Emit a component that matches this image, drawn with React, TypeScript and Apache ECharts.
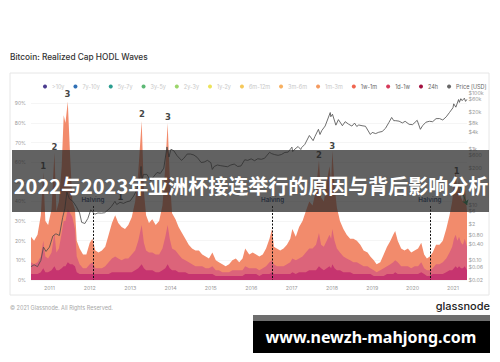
import React, { useEffect, useRef } from 'react';
import * as echarts from 'echarts';

// ---------- legend ----------
const legendNames = ['>10y', '7y-10y', '5y-7y', '3y-5y', '2y-3y', '1y-2y', '6m-12m', '3m-6m', '1m-3m', '1w-1m', '1d-1w', '24h', 'Price [USD]'];
const legendColors = ['#4b3c8f', '#2e6fb5', '#2a9d8f', '#5cb874', '#9bd56b', '#ece35a', '#f5c85a', '#f7b060', '#f49a60', '#f0654f', '#d63a5a', '#a3103f', '#666666'];
const hiddenBands = legendNames.slice(0, 9);

// ---------- HODL wave bands (% of realized cap) ----------
const bandDates = [
  '2010-07-18', '2010-08-15', '2010-09-15', '2010-10-15', '2010-11-06', '2010-11-25', '2010-12-20',
  '2011-01-20', '2011-02-15', '2011-03-05', '2011-03-28', '2011-04-22', '2011-05-10', '2011-05-26', '2011-06-16', '2011-07-08', '2011-07-28', '2011-08-20', '2011-09-05', '2011-10-01', '2011-11-01', '2011-12-01',
  '2012-01-01', '2012-01-25', '2012-02-20', '2012-03-20', '2012-04-20', '2012-05-20', '2012-06-20', '2012-07-20', '2012-08-18', '2012-09-15', '2012-10-15', '2012-11-15', '2012-12-15',
  '2013-01-15', '2013-02-15', '2013-03-15', '2013-04-15', '2013-05-05', '2013-05-25', '2013-06-20', '2013-07-20', '2013-08-20', '2013-09-20', '2013-10-20', '2013-11-15', '2013-12-06', '2013-12-25',
  '2014-01-15', '2014-02-15', '2014-03-15', '2014-04-15', '2014-05-15', '2014-06-15', '2014-07-15', '2014-08-15', '2014-09-15', '2014-10-15', '2014-11-15', '2014-12-15',
  '2015-01-15', '2015-02-15', '2015-03-15', '2015-04-15', '2015-05-15', '2015-06-15', '2015-07-15', '2015-08-15', '2015-09-15', '2015-10-15', '2015-11-08', '2015-12-15',
  '2016-01-15', '2016-02-15', '2016-03-15', '2016-04-15', '2016-05-15', '2016-06-15', '2016-07-08', '2016-07-25', '2016-08-20', '2016-09-20', '2016-10-20', '2016-11-20', '2016-12-20',
  '2017-01-08', '2017-02-08', '2017-03-10', '2017-04-10', '2017-05-10', '2017-06-10', '2017-07-10', '2017-08-10', '2017-09-06', '2017-09-25', '2017-10-20', '2017-11-15', '2017-12-10', '2017-12-25',
  '2018-01-05', '2018-01-25', '2018-02-15', '2018-03-15', '2018-04-15', '2018-05-15', '2018-06-15', '2018-07-15', '2018-08-15', '2018-09-15', '2018-10-15', '2018-11-20', '2018-12-15',
  '2019-01-15', '2019-02-10', '2019-03-15', '2019-04-15', '2019-05-15', '2019-06-15', '2019-07-10', '2019-07-28', '2019-08-20', '2019-09-20', '2019-10-20', '2019-11-20', '2019-12-20',
  '2020-01-20', '2020-02-20', '2020-03-20', '2020-04-15', '2020-05-10', '2020-06-05', '2020-07-01', '2020-08-01', '2020-09-01', '2020-10-01', '2020-11-01', '2020-12-01', '2020-12-25',
  '2021-01-10', '2021-01-25', '2021-02-10', '2021-02-25', '2021-03-15', '2021-04-01', '2021-04-18', '2021-05-08',
];
const band24h = [
  3, 3, 3, 4, 6, 4, 4,
  5, 7, 5, 5, 6, 7, 7, 9, 8, 8, 7, 4, 3, 3, 3,
  3, 3, 3, 3, 3, 3, 3, 4, 4, 4, 4, 4, 4,
  4, 5, 6, 8, 6, 5, 5, 5, 4, 4, 5, 6, 8, 6,
  5, 5, 4, 4, 4, 3, 3, 3, 3, 3, 3, 3,
  3, 2, 2, 2, 2, 2, 2, 2, 2, 2, 3, 3,
  3, 3, 2, 3, 3, 3, 4, 3, 3, 3, 3, 3, 3,
  4, 3, 4, 4, 4, 5, 5, 5, 7, 6, 5, 6, 7, 6,
  8, 6, 5, 5, 4, 4, 4, 3, 3, 3, 3, 3, 3,
  2, 2, 2, 2, 3, 3, 3, 4, 3, 3, 3, 3, 3,
  3, 3, 4, 3, 2, 2, 3, 3, 3, 3, 4, 5, 5,
  6, 7, 6, 7, 6, 6, 7, 5,
];
const band1d1w = [
  6, 5, 6, 8, 14, 8, 7,
  9, 17, 9, 11, 18, 23, 23, 27, 26, 24, 19, 8, 5, 3, 3,
  5, 6, 3, 3, 3, 4, 6, 7, 8, 7, 6, 7, 7,
  9, 10, 14, 20, 13, 10, 9, 9, 9, 9, 11, 16, 20, 15,
  11, 10, 9, 7, 6, 6, 5, 4, 4, 4, 3, 3,
  4, 3, 3, 2, 2, 2, 3, 3, 3, 3, 4, 3,
  3, 3, 3, 3, 4, 6, 6, 5, 4, 4, 4, 5, 6,
  7, 7, 7, 8, 10, 11, 11, 13, 17, 12, 12, 14, 16, 15,
  18, 14, 11, 9, 8, 7, 6, 6, 6, 5, 4, 4, 3,
  3, 2, 3, 4, 4, 5, 6, 6, 6, 4, 4, 4, 3,
  4, 4, 5, 3, 3, 3, 3, 5, 5, 6, 7, 9, 12,
  15, 16, 14, 15, 13, 12, 14, 12,
];
const band1w1m = [
  13, 12, 14, 21, 35, 18, 17,
  22, 41, 21, 24, 34, 54, 50, 55, 28, 8, 10, 8, 8, 7, 7,
  11, 12, 9, 8, 9, 10, 14, 18, 21, 18, 17, 15, 17,
  19, 25, 35, 53, 26, 18, 15, 17, 15, 17, 22, 36, 52, 31,
  18, 16, 14, 13, 11, 9, 8, 8, 8, 6, 6, 5,
  7, 5, 4, 4, 3, 4, 5, 6, 4, 6, 9, 7,
  8, 7, 7, 7, 9, 12, 16, 9, 9, 8, 9, 10, 12,
  15, 12, 16, 18, 21, 24, 22, 28, 37, 24, 23, 30, 35, 29,
  40, 28, 21, 16, 14, 12, 11, 12, 11, 10, 8, 7, 6,
  5, 4, 4, 7, 10, 12, 14, 15, 11, 9, 8, 9, 8,
  8, 9, 10, 7, 6, 7, 8, 10, 10, 11, 15, 19, 23,
  29, 32, 25, 30, 23, 22, 27, 18,
];

// ---------- BTC price (USD) ----------
const priceDates = [
  '2010-07-18', '2010-08-15', '2010-09-15', '2010-10-15', '2010-11-08', '2010-12-01',
  '2011-01-01', '2011-02-01', '2011-03-01', '2011-04-01', '2011-05-01', '2011-05-20', '2011-06-08', '2011-07-01', '2011-08-01', '2011-09-01', '2011-10-01', '2011-10-20', '2011-11-18', '2011-12-15',
  '2012-01-10', '2012-02-15', '2012-03-15', '2012-04-15', '2012-05-15', '2012-06-15', '2012-07-15', '2012-08-16', '2012-09-01', '2012-10-01', '2012-11-01', '2012-12-01',
  '2013-01-01', '2013-02-01', '2013-03-01', '2013-04-01', '2013-04-09', '2013-04-17', '2013-05-01', '2013-06-01', '2013-07-05', '2013-08-01', '2013-09-01', '2013-10-01', '2013-11-01', '2013-11-30', '2013-12-18',
  '2014-01-05', '2014-02-01', '2014-03-01', '2014-04-10', '2014-05-01', '2014-06-01', '2014-07-01', '2014-08-01', '2014-09-01', '2014-10-05', '2014-11-01', '2014-12-01',
  '2015-01-01', '2015-01-14', '2015-02-01', '2015-03-01', '2015-04-01', '2015-05-01', '2015-06-01', '2015-07-01', '2015-08-01', '2015-09-01', '2015-10-01', '2015-11-04', '2015-12-01',
  '2016-01-01', '2016-02-01', '2016-03-01', '2016-04-01', '2016-05-01', '2016-06-16', '2016-07-01', '2016-08-01', '2016-09-01', '2016-10-01', '2016-11-01', '2016-12-01',
  '2017-01-04', '2017-01-11', '2017-02-01', '2017-03-01', '2017-03-25', '2017-04-01', '2017-05-01', '2017-06-11', '2017-07-15', '2017-08-01', '2017-09-01', '2017-09-15', '2017-10-01', '2017-11-01', '2017-12-17', '2017-12-22',
  '2018-01-06', '2018-02-06', '2018-03-01', '2018-04-06', '2018-05-01', '2018-06-01', '2018-07-01', '2018-07-25', '2018-08-14', '2018-09-01', '2018-10-01', '2018-11-01', '2018-12-15',
  '2019-01-01', '2019-02-01', '2019-03-01', '2019-04-01', '2019-05-01', '2019-06-01', '2019-06-26', '2019-07-15', '2019-08-01', '2019-09-01', '2019-10-01', '2019-10-26', '2019-12-01',
  '2020-01-01', '2020-02-12', '2020-03-12', '2020-04-01', '2020-05-01', '2020-06-01', '2020-07-01', '2020-08-01', '2020-09-01', '2020-10-01', '2020-11-01', '2020-12-01',
  '2021-01-01', '2021-01-08', '2021-01-27', '2021-02-21', '2021-02-28', '2021-03-13', '2021-03-25', '2021-04-14', '2021-04-25', '2021-05-07',
];
const priceUsd = [
  0.06, 0.07, 0.06, 0.1, 0.3, 0.21,
  0.3, 0.75, 0.9, 0.78, 3.5, 7, 28, 16, 13, 8.5, 5, 2.3, 2.1, 3.2,
  6.5, 4.5, 5, 4.9, 5.1, 6.5, 8.5, 13, 10, 12, 11, 12.5,
  13.5, 20, 33, 100, 230, 80, 120, 120, 70, 100, 140, 130, 200, 1150, 500,
  950, 830, 560, 380, 450, 640, 640, 590, 480, 320, 330, 380,
  315, 180, 230, 260, 245, 235, 225, 260, 280, 230, 240, 400, 380,
  430, 370, 435, 415, 450, 740, 670, 610, 575, 615, 730, 750,
  1130, 780, 970, 1190, 930, 1080, 1420, 2950, 1930, 2750, 4900, 3200, 4400, 6450, 19500, 13800,
  17000, 6900, 10900, 6600, 9200, 7500, 6400, 8200, 6200, 7000, 6600, 6300, 3200,
  3800, 3450, 3850, 4100, 5300, 8600, 13000, 10000, 10000, 9600, 8300, 9500, 7400,
  7200, 10300, 4900, 6600, 8800, 9500, 9200, 11800, 11900, 10600, 13700, 19700,
  29000, 40000, 30400, 57000, 45000, 61000, 52000, 63500, 49000, 57500,
];

// ---------- axes ticks ----------
const yearTicks = ['2011-01-01', '2012-01-01', '2013-01-01', '2014-01-01', '2015-01-01', '2016-01-01', '2017-01-01', '2018-01-01', '2019-01-01', '2020-01-01', '2021-01-01'];
const yearLabels = ['2011', '2012', '2013', '2014', '2015', '2016', '2017', '2018', '2019', '2020', '2021'];
const pctTicks = [0, 10, 20, 30, 40, 50, 60, 70, 80, 90];
const priceTickValues = [0.02, 0.06, 0.1, 0.4, 0.8, 2, 6, 10, 200, 600, 1000, 4000, 8000, 20000, 60000, 100000];
const priceTickLabels = ['$0.02', '$0.06', '$0.10', '$0.40', '$0.80', '$2', '$6', '$10', '$200', '$600', '$1k', '$4k', '$8k', '$20k', '$60k', '$100k'];

// ---------- annotations ----------
const halvingDates = ['2012-01-30', '2016-07-13', '2020-06-06'];
const halvingTopPct = 37.7;
const peakDates = ['2010-11-06', '2011-02-15', '2011-06-14', '2012-10-04', '2013-04-17', '2013-12-08', '2017-09-06', '2018-01-04', '2021-02-03'];
const peakPcts = [58, 68, 95, 42.5, 84.5, 83, 63.5, 68.5, 55.5];
const peakLabels = ['1', '2', '3', '1', '2', '3', '2', '3', '1'];
const arrowFrom = { date: '2021-03-10', price: 43 };
const arrowTo = { date: '2021-05-08', price: 9.6 };

const ts = (d: string) => {
  const [y, m, dd] = d.split('-').map(Number);
  return new Date(y, m - 1, dd).getTime();
};

const nearestIndex = (list: number[], v: number) => {
  let best = 0;
  list.forEach((p, i) => {
    if (Math.abs(p - v) < Math.abs(list[best] - v)) best = i;
  });
  return best;
};

export default function App() {
  const ref = useRef<HTMLDivElement>(null);
  useEffect(() => {
    if (!ref.current) return;
    const chart = echarts.init(ref.current, null, { renderer: 'svg' });
    const yearTs = yearTicks.map(ts);
    const priceLogTicks = priceTickValues.map((v) => Math.log10(v));
    // stacking done by drawing cumulative totals, widest band first
    const bandStack = [band24h, band1d1w, band1w1m];
    const cumulative = (level: number) =>
      bandDates.map((d, i) => {
        let s = 0;
        for (let k = 0; k <= level; k++) s += bandStack[k][i];
        return [ts(d), s];
      });
    const band = (name: string, level: number, fill: string) => ({
      name,
      type: 'line',
      data: cumulative(level),
      symbol: 'none',
      showSymbol: false,
      lineStyle: { width: 0, opacity: 0 },
      areaStyle: { color: fill, opacity: 1 },
      itemStyle: { color: legendColors[legendNames.indexOf(name)] },
      z: 2 + (2 - level) * 0.1,
      zlevel: 0,
      silent: true,
    });
    const option: any = {
      animation: false,
      backgroundColor: '#ffffff',
      textStyle: { fontFamily: 'Inter' },
      legend: {
        left: 38,
        top: 78.5,
        icon: 'circle',
        itemWidth: 4,
        itemHeight: 4,
        itemGap: 9,
        textStyle: { fontSize: 5.5, color: '#666' },
        selectedMode: false,
        data: legendNames.map((n, i) => ({
          name: n,
          itemStyle: { color: legendColors[i] },
          textStyle: { color: i < 9 ? '#c8c8c8' : '#666' },
        })),
      },
      grid: { left: 31, right: 33, top: 91, bottom: 82 },
      xAxis: {
        type: 'value',
        min: ts(bandDates[0]),
        max: ts(bandDates[bandDates.length - 1]),
        axisLine: { show: false },
        axisTick: { show: false, customValues: yearTs },
        splitLine: { show: false },
        axisLabel: {
          customValues: yearTs,
          formatter: (v: number) => yearLabels[nearestIndex(yearTs, v)],
          fontSize: 5.3,
          color: '#9a9a9a',
          margin: 5,
        },
      },
      yAxis: [
        {
          type: 'value',
          min: 0,
          max: 96.3,
          axisLine: { show: false },
          axisTick: { show: false, customValues: pctTicks },
          splitLine: { show: true, lineStyle: { color: '#efefef', width: 0.6 } },
          axisLabel: {
            customValues: pctTicks,
            formatter: (v: number) => Math.round(v) + '%',
            fontSize: 5,
            color: '#9a9a9a',
            margin: 5,
          },
        },
        {
          type: 'value',
          position: 'right',
          min: priceLogTicks[0],
          max: 5.061,
          axisLine: { show: false },
          axisTick: { show: false, customValues: priceLogTicks },
          splitLine: { show: false },
          axisLabel: {
            customValues: priceLogTicks,
            formatter: (v: number) => priceTickLabels[nearestIndex(priceLogTicks, v)],
            fontSize: 5.3,
            color: '#9a9a9a',
            margin: 1.5,
          },
        },
      ],
      series: [
        ...hiddenBands.map((n, i) => ({ name: n, type: 'line', data: [], itemStyle: { color: legendColors[i] } })),
        band('1w-1m', 2, '#f28b6c'),
        band('1d-1w', 1, '#dc647a'),
        band('24h', 0, '#c6346f'),
        {
          name: 'Price [USD]',
          type: 'line',
          yAxisIndex: 1,
          data: priceDates.map((d, i) => [ts(d), Math.log10(priceUsd[i])]),
          symbol: 'none',
          showSymbol: false,
          lineStyle: { color: '#4a4a4a', width: 0.8 },
          itemStyle: { color: '#666666' },
          z: 5,
          silent: true,
          markLine: {
            silent: true,
            symbol: ['none', 'arrow'],
            symbolSize: 5,
            lineStyle: { color: '#2e8b57', width: 1, type: 'solid' },
            label: { show: false },
            data: [[
              { coord: [ts(arrowFrom.date), Math.log10(arrowFrom.price)] },
              { coord: [ts(arrowTo.date), Math.log10(arrowTo.price)] },
            ]],
          },
        },
        {
          name: 'annotations',
          type: 'scatter',
          data: peakDates.map((d, i) => ({ value: [ts(d), peakPcts[i]], label: { formatter: peakLabels[i] } })),
          symbolSize: 1,
          itemStyle: { color: 'transparent' },
          label: { show: true, position: 'inside', fontSize: 8.5, fontWeight: 'bold', color: '#111', fontFamily: 'DejaVu Sans' },
          z: 6,
          silent: true,
          markLine: {
            silent: true,
            symbol: ['none', 'none'],
            lineStyle: { type: [2, 1.5], color: '#111', width: 1 },
            label: { show: true, position: 'start', formatter: 'Halving', color: '#2f4a78', fontSize: 6.3, fontWeight: 600, distance: 3 },
            data: halvingDates.map((d) => [{ coord: [ts(d), halvingTopPct] }, { coord: [ts(d), 0] }]),
          },
        },
      ],
      graphic: [
        {
          type: 'text', x: 10, y: 57, z: 50,
          style: { text: 'Bitcoin: Realized Cap HODL Waves', fill: '#333', fontSize: 8.3, fontWeight: 500, fontFamily: 'Inter', textVerticalAlign: 'middle' },
        },
        {
          type: 'rect', z: 1, shape: { x: 10, y: 73, width: 479, height: 222 },
          style: { fill: 'none', stroke: '#e6e6e6', lineWidth: 1 },
        },
        {
          type: 'text', x: 10, y: 308, z: 50,
          style: { text: '© 2021 Glassnode. All Rights Reserved.', fill: '#a8a8a8', fontSize: 5.5, fontFamily: 'Inter', textVerticalAlign: 'middle' },
        },
        {
          type: 'text', x: 490, y: 306, z: 50,
          style: { text: 'glassnode', fill: '#222', fontSize: 11, fontWeight: 500, fontFamily: 'Inter', textAlign: 'right', textVerticalAlign: 'middle' },
        },
        {
          type: 'rect', z: 100, shape: { x: 12, y: 150, width: 477, height: 62 },
          style: { fill: 'rgba(38,38,38,0.72)' },
        },
        {
          type: 'text', x: 251, y: 185, z: 101,
          style: { text: '2022与2023年亚洲杯接连举行的原因与背后影响分析', fill: '#ffffff', fontSize: 20, fontWeight: 'bold', fontFamily: 'Noto Sans CJK SC', textAlign: 'center', textVerticalAlign: 'middle' },
        },
        {
          type: 'rect', z: 100, shape: { x: 253, y: 315, width: 237, height: 6 },
          style: { fill: '#6e6e6e' },
        },
        {
          type: 'rect', z: 100, shape: { x: 253, y: 321, width: 237, height: 32 },
          style: { fill: '#000000' },
        },
        {
          type: 'text', x: 371, y: 337, z: 101,
          style: { text: 'www.newzh-mahjong.com', fill: '#ffffff', fontSize: 16, fontWeight: 'bold', fontFamily: 'Noto Sans', textAlign: 'center', textVerticalAlign: 'middle' },
        },
      ],
    };
    chart.setOption(option);
    return () => chart.dispose();
  }, []);
  return <div ref={ref} style={{ position: 'fixed', left: 0, top: 0, width: 500, height: 362, background: '#fff' }} />;
}
